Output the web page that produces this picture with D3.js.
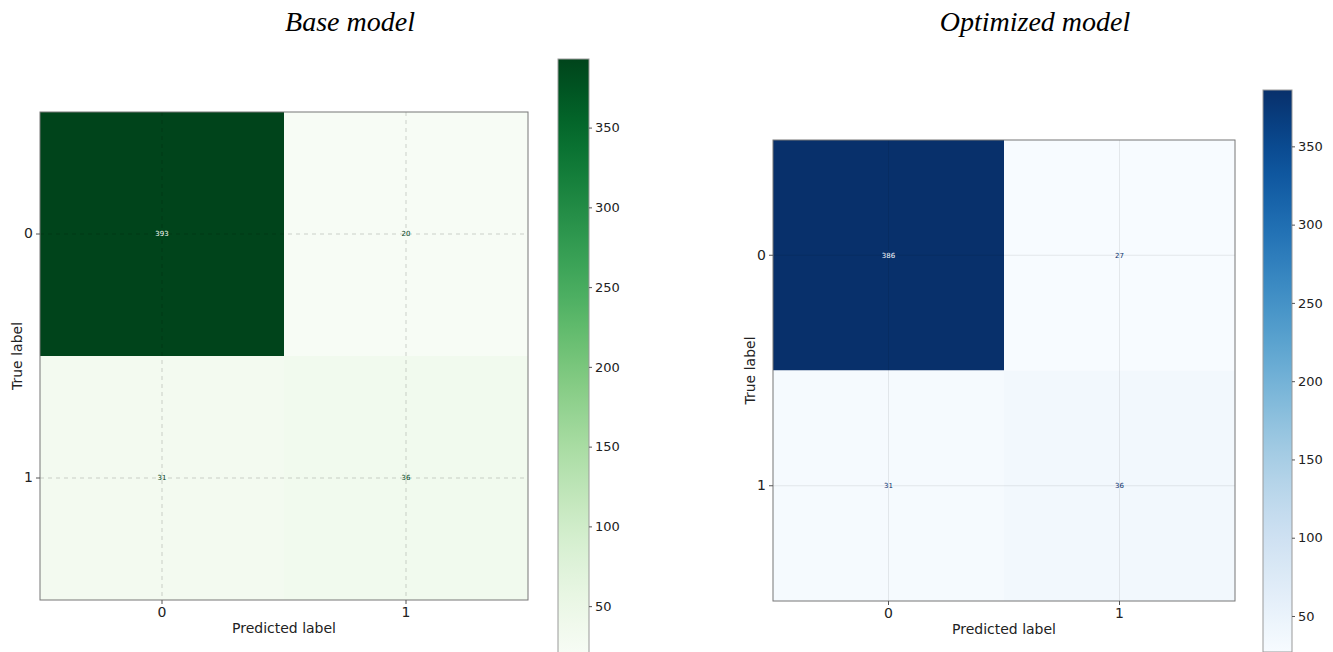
<!DOCTYPE html>
<html>
<head>
<meta charset="utf-8">
<script src="https://cdn.jsdelivr.net/npm/d3@7"></script>
<style>
  html, body { margin: 0; padding: 0; background: #fff; }
  svg { display: block; }
</style>
</head>
<body>
<svg id="chart" width="1333" height="652"></svg>
<script>
// Class labels shared by both matrices
const classLabels = ["0", "1"];

// Confusion matrix counts, rows = true label, columns = predicted label
const baseRows = [[393, 20], [31, 36]];
const optimizedRows = [[386, 27], [31, 36]];

// Colorbar tick values
const colorbarTicks = [50, 100, 150, 200, 250, 300, 350];

const titles = ["Base model", "Optimized model"];

const svg = d3.select("#chart");
const sansFont = "'DejaVu Sans', sans-serif";

const panels = [
  {
    title: titles[0], rows: baseRows, interp: d3.interpolateGreens,
    plot: { x0: 40, x1: 528, y0: 112, y1: 600 },
    bar: { x0: 558, x1: 589, y0: 59, y1: 654 },
    titleX: 350, dashed: true, gridOpacity: 0.22
  },
  {
    title: titles[1], rows: optimizedRows, interp: d3.interpolateBlues,
    plot: { x0: 773, x1: 1235, y0: 140, y1: 601 },
    bar: { x0: 1263, x1: 1292, y0: 90, y1: 652 },
    titleX: 1035, dashed: false, gridOpacity: 0.1
  }
];

panels.forEach((p, pi) => {
  const flat = p.rows.flat();
  const vmin = d3.min(flat), vmax = d3.max(flat);
  const color = d3.scaleSequential(p.interp).domain([vmin, vmax]);

  const x = d3.scaleBand().domain(classLabels).range([p.plot.x0, p.plot.x1]);
  const y = d3.scaleBand().domain(classLabels).range([p.plot.y0, p.plot.y1]);

  const g = svg.append("g");

  // Title
  svg.append("text")
    .attr("x", p.titleX).attr("y", 31)
    .attr("text-anchor", "middle")
    .style("font-family", "'Liberation Serif', 'Times New Roman', serif")
    .style("font-style", "italic")
    .style("font-size", "28px")
    .attr("fill", "#000")
    .text(p.title);

  // Cells
  const cells = [];
  p.rows.forEach((row, i) => row.forEach((v, j) => cells.push({ r: classLabels[i], c: classLabels[j], v })));

  g.selectAll("rect.cell").data(cells).enter().append("rect")
    .attr("class", "cell")
    .attr("x", d => x(d.c)).attr("y", d => y(d.r))
    .attr("width", x.bandwidth()).attr("height", y.bandwidth())
    .attr("fill", d => color(d.v));

  // Grid lines at tick centres
  const gridG = g.append("g")
    .attr("stroke", "#000")
    .attr("stroke-opacity", p.gridOpacity)
    .attr("stroke-width", 0.8)
    .attr("stroke-dasharray", p.dashed ? "4,4" : null);
  classLabels.forEach(c => {
    const cx = x(c) + x.bandwidth() / 2;
    gridG.append("line").attr("x1", cx).attr("x2", cx).attr("y1", p.plot.y0).attr("y2", p.plot.y1);
    const cy = y(c) + y.bandwidth() / 2;
    gridG.append("line").attr("x1", p.plot.x0).attr("x2", p.plot.x1).attr("y1", cy).attr("y2", cy);
  });

  // Value labels
  const thresh = (vmin + vmax) / 2;
  g.selectAll("text.val").data(cells).enter().append("text")
    .attr("class", "val")
    .attr("x", d => x(d.c) + x.bandwidth() / 2)
    .attr("y", d => y(d.r) + y.bandwidth() / 2)
    .attr("dy", "0.35em")
    .attr("text-anchor", "middle")
    .style("font-family", sansFont)
    .style("font-size", "7px")
    .attr("fill", d => d.v > thresh ? color(vmin) : color(vmax))
    .text(d => d.v);

  // Frame
  g.append("rect")
    .attr("x", p.plot.x0).attr("y", p.plot.y0)
    .attr("width", p.plot.x1 - p.plot.x0).attr("height", p.plot.y1 - p.plot.y0)
    .attr("fill", "none").attr("stroke", "#777").attr("stroke-width", 1);

  // Axes
  const xAxis = d3.axisBottom(x).tickSize(4).tickPadding(3);
  const gx = g.append("g").attr("transform", `translate(0,${p.plot.y1})`).call(xAxis);
  gx.select(".domain").remove();
  gx.selectAll("line").attr("stroke", "#555");
  gx.selectAll("text").style("font-family", sansFont).style("font-size", "14px").attr("fill", "#222");

  const yAxis = d3.axisLeft(y).tickSize(4).tickPadding(3);
  const gy = g.append("g").attr("transform", `translate(${p.plot.x0},0)`).call(yAxis);
  gy.select(".domain").remove();
  gy.selectAll("line").attr("stroke", "#555");
  gy.selectAll("text").style("font-family", sansFont).style("font-size", "14px").attr("fill", "#222");

  // Axis titles
  const pcx = (p.plot.x0 + p.plot.x1) / 2;
  const pcy = (p.plot.y0 + p.plot.y1) / 2;
  g.append("text")
    .attr("x", pcx).attr("y", p.plot.y1 + 33)
    .attr("text-anchor", "middle")
    .style("font-family", sansFont).style("font-size", "14px").attr("fill", "#222")
    .text("Predicted label");
  g.append("text")
    .attr("transform", `translate(${p.plot.x0 - 18},${pcy}) rotate(-90)`)
    .attr("text-anchor", "middle")
    .style("font-family", sansFont).style("font-size", "14px").attr("fill", "#222")
    .text("True label");

  // Colorbar
  const cb = d3.scaleLinear().domain([vmin, vmax]).range([p.bar.y1, p.bar.y0]);
  const gradId = "grad" + pi;
  const grad = svg.append("defs").append("linearGradient")
    .attr("id", gradId).attr("x1", 0).attr("x2", 0).attr("y1", 1).attr("y2", 0);
  d3.range(0, 1.0001, 0.05).forEach(t => {
    grad.append("stop").attr("offset", t).attr("stop-color", color(vmin + t * (vmax - vmin)));
  });
  g.append("rect")
    .attr("x", p.bar.x0).attr("y", p.bar.y0)
    .attr("width", p.bar.x1 - p.bar.x0).attr("height", p.bar.y1 - p.bar.y0)
    .attr("fill", `url(#${gradId})`)
    .attr("stroke", "#999").attr("stroke-width", 1);
  const cbAxis = d3.axisRight(cb).tickValues(colorbarTicks).tickSize(3).tickPadding(3);
  const gc = g.append("g").attr("transform", `translate(${p.bar.x1},0)`).call(cbAxis);
  gc.select(".domain").remove();
  gc.selectAll("line").attr("stroke", "#555");
  gc.selectAll("text").style("font-family", sansFont).style("font-size", "13px").attr("fill", "#222");
});
</script>
</body>
</html>
